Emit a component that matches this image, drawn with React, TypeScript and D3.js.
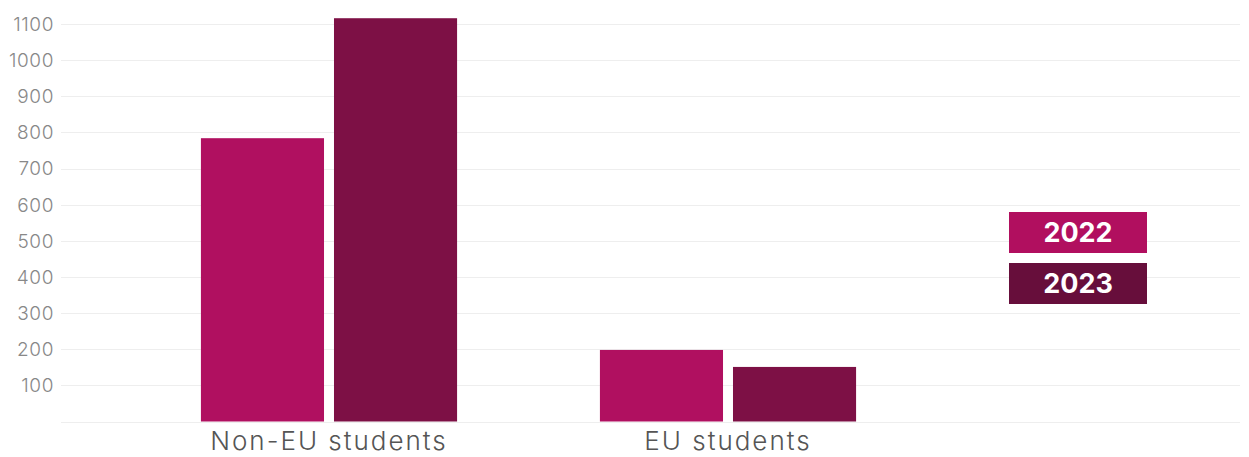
import React from "react";
import * as d3 from "d3";

const categories = ["Non-EU students", "EU students"];
const years = ["2022", "2023"];
const values2022 = [784, 198];
const values2023 = [1116, 151];
const yTicks = [100, 200, 300, 400, 500, 600, 700, 800, 900, 1000, 1100];
const barColors = ["#B01060", "#7D1045"];
const legendColors = ["#B10F5F", "#670E3B"];

export default function App() {
  const W = 1249, H = 457;
  const y = d3.scaleLinear().domain([0, 1100]).range([421.5, 24]);
  const x0 = d3.scaleBand().domain(categories).range([129.5, 927.5]).paddingInner(0.358).paddingOuter(0.179);
  const x1 = d3.scaleBand().domain(years).range([0, x0.bandwidth()]).paddingInner(0.075);
  const series = [values2022, values2023];
  const font = "Inter, 'Noto Sans', sans-serif";
  return (
    <svg width={W} height={H} style={{ position: "absolute", left: 0, top: 0 }} fontFamily={font}>
      {[0, ...yTicks].map((t) => (
        <line key={t} x1={61} x2={1240} y1={Math.round(y(t)) + 0.5} y2={Math.round(y(t)) + 0.5} stroke="#EEEEEE" strokeWidth={1} />
      ))}
      {yTicks.map((t) => (
        <text key={t} x={54} y={y(t)} dy="0.36em" textAnchor="end" fontSize={19} fontWeight={300} letterSpacing={0.6} fill="#888">
          {t}
        </text>
      ))}
      {categories.map((c, i) => (
        <g key={c} transform={`translate(${x0(c)},0)`}>
          {years.map((yr, j) => (
            <rect key={yr} x={x1(yr)} width={x1.bandwidth()} y={y(series[j][i])} height={y(0) - y(series[j][i])} fill={barColors[j]} />
          ))}
          <text x={x0.bandwidth() / 2} y={450} textAnchor="middle" fontSize={26} fontWeight={300} letterSpacing={2} fill="#555">
            {c}
          </text>
        </g>
      ))}
      {years.map((yr, j) => (
        <g key={yr} transform={`translate(1009,${212 + j * 51})`}>
          <rect width={138} height={41} fill={legendColors[j]} />
          <text x={69} y={20.5} dy="0.36em" textAnchor="middle" fontSize={27} fontWeight={700} fill="#fff">
            {yr}
          </text>
        </g>
      ))}
    </svg>
  );
}
